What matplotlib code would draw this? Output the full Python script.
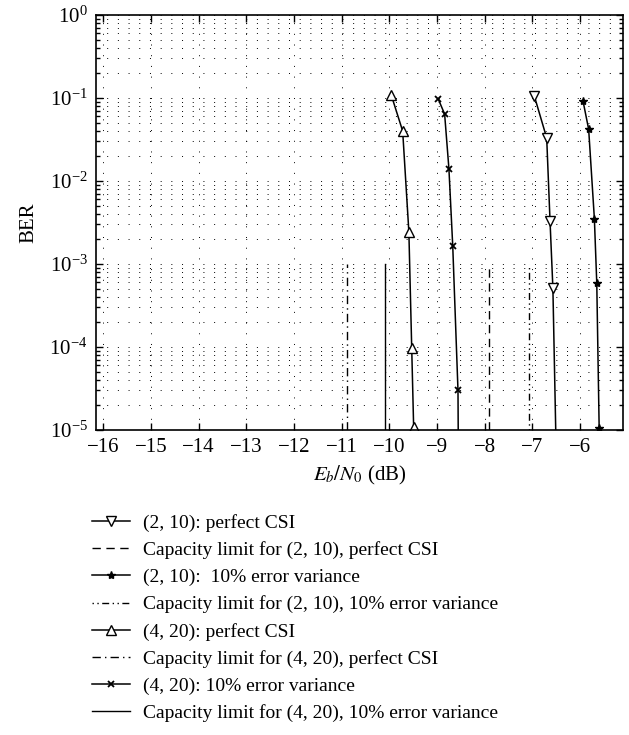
import numpy as np
import matplotlib
matplotlib.use("Agg")
import matplotlib.pyplot as plt
from matplotlib.ticker import LogLocator, NullFormatter, FixedLocator

plt.rcParams['font.family'] = ['Liberation Serif', 'DejaVu Serif']
plt.rcParams['mathtext.fontset'] = 'stix'

# ---- data ----
x_210_perfect = [-6.96, -6.70, -6.63, -6.57, -6.50]
y_210_perfect = [0.106, 0.033, 0.0033, 5.1e-4, 5e-6]

x_210_err = [-5.94, -5.82, -5.70, -5.65, -5.60]
y_210_err = [0.093, 0.042, 0.0035, 5.9e-4, 1.07e-5]

x_420_perfect = [-9.96, -9.72, -9.59, -9.53, -9.49]
y_420_perfect = [0.109, 0.040, 0.00245, 9.6e-5, 1.1e-5]

x_420_err = [-8.97, -8.84, -8.75, -8.67, -8.56, -8.55]
y_420_err = [0.096, 0.064, 0.014, 0.00165, 3.0e-5, 3e-6]

cap_210_perfect = -7.92
cap_210_err = -7.08
cap_420_perfect = -10.89
cap_420_err = -10.09
cap_y = [1e-5, 1e-3]

labels = [
    "(2, 10): perfect CSI",
    "Capacity limit for (2, 10), perfect CSI",
    "(2, 10):  10% error variance",
    "Capacity limit for (2, 10), 10% error variance",
    "(4, 20): perfect CSI",
    "Capacity limit for (4, 20), perfect CSI",
    "(4, 20): 10% error variance",
    "Capacity limit for (4, 20), 10% error variance",
]
xticks = list(range(-16, -5))

W, H = 629, 735
fig = plt.figure(figsize=(W / 100, H / 100), dpi=100)
ax = fig.add_axes([96 / W, 1 - 430 / H, (623 - 96) / W, (430 - 15) / H])

FS = 15
LFS = 14
lw = 1.1
h = []
h += ax.plot(x_210_perfect, y_210_perfect, color='k', lw=lw, marker='v', ms=7,
             mfc='white', mec='k', mew=1.0)
h += ax.plot([cap_210_perfect] * 2, cap_y, color='k', lw=1.0, ls=(0, (6, 4)))
h += ax.plot(x_210_err, y_210_err, color='k', lw=lw, marker='*', ms=6,
             mfc='k', mec='k')
h += ax.plot([cap_210_err] * 2, cap_y, color='k', lw=1.0,
             ls=(0, (1, 2.5, 1, 2.5, 5, 2.5)))
h += ax.plot(x_420_perfect, y_420_perfect, color='k', lw=lw, marker='^', ms=7,
             mfc='white', mec='k', mew=1.0)
h += ax.plot([cap_420_perfect] * 2, cap_y, color='k', lw=1.0, ls=(0, (6, 3, 1, 3)))
h += ax.plot(x_420_err, y_420_err, color='k', lw=lw, marker='x', ms=4.5,
             mec='k', mew=1.3)
h += ax.plot([cap_420_err] * 2, cap_y, color='k', lw=1.0, ls='-')

ax.set_yscale('log')
ax.set_xlim(-16.15, -5.1)
ax.set_ylim(1e-5, 1)
ax.xaxis.set_major_locator(FixedLocator(xticks))
ax.yaxis.set_major_locator(LogLocator(base=10, numticks=10))
ax.yaxis.set_minor_locator(LogLocator(base=10, subs=np.arange(2, 10), numticks=10))
ax.yaxis.set_minor_formatter(NullFormatter())

ax.grid(True, which='major', axis='both', color='k', lw=0.7, ls=(0, (1, 10)))
ax.grid(True, which='minor', axis='y', color='k', lw=0.7, ls=(0, (1, 10)))
ax.set_axisbelow(True)

ax.tick_params(which='both', direction='in', top=True, right=True, labelsize=FS,
               width=1.0)
ax.tick_params(which='major', length=5, pad=6)
ax.tick_params(which='minor', length=3)
for s in ax.spines.values():
    s.set_linewidth(1.2)

ax.set_xlabel(r"$E_b/N_0$ (dB)", fontsize=FS, labelpad=5)
ax.set_ylabel("BER", fontsize=FS, labelpad=8)

leg = fig.legend(h, labels, loc='upper left',
                 bbox_to_anchor=(92 / W, 1 - 514 / H), frameon=False,
                 fontsize=LFS, handlelength=1.96, handletextpad=0.67,
                 labelspacing=0.48, borderpad=0, borderaxespad=0, numpoints=1)

fig.savefig("out.png", dpi=100)
